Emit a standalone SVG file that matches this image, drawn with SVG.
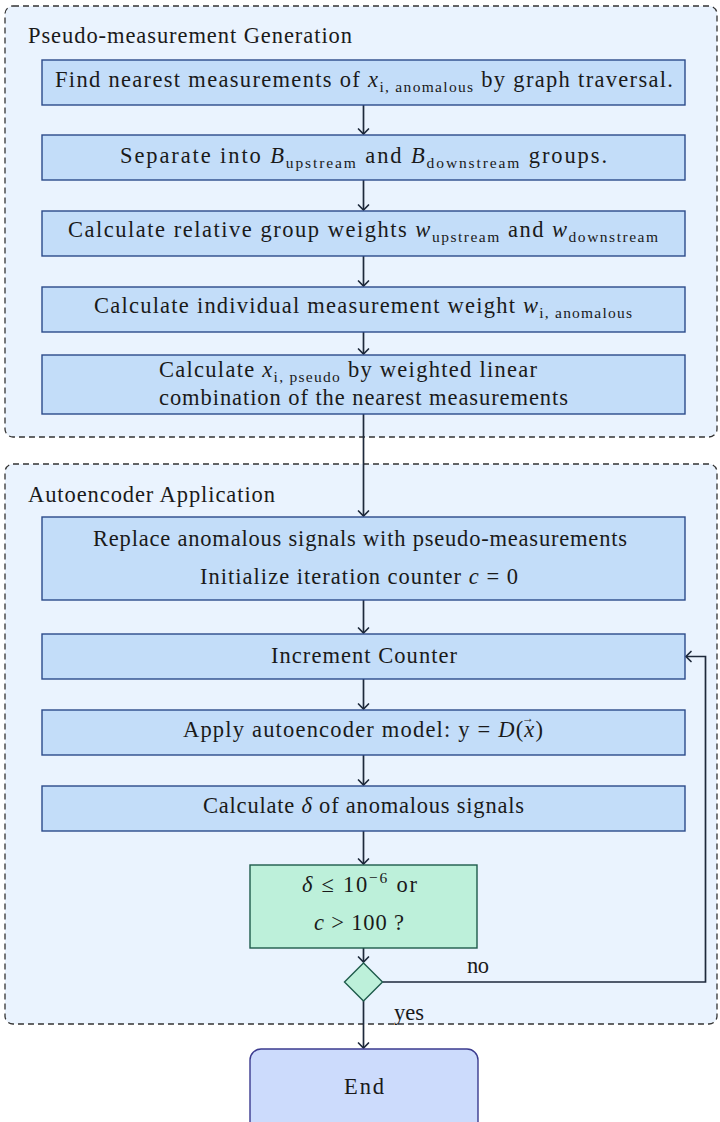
<svg xmlns="http://www.w3.org/2000/svg" width="720" height="1122" viewBox="0 0 720 1122">
  <style>
    text { font-family: "Liberation Serif", "DejaVu Serif", serif; font-size: 22.5px; fill: #1a1a1a; }
    .mi { font-style: italic; }
    .sub { font-size: 15.5px; }
    .acc { font-size: 12px; }
    .group { fill: #eaf3fe; stroke: #333333; stroke-width: 1.3; stroke-dasharray: 6 4; }
    .step { fill: #c3ddf9; stroke: #2c4a8a; stroke-width: 1.4; }
    .check { fill: #bdf0da; stroke: #1e5b4b; stroke-width: 1.4; }
    .term { fill: #ccdbfc; stroke: #3b3b8f; stroke-width: 1.4; }
    .flow { fill: none; stroke: #1e293b; stroke-width: 1.7; }
  </style>
  <defs>
    <marker id="arrow" markerUnits="userSpaceOnUse" markerWidth="14" markerHeight="14" viewBox="-8 -7 10 14" refX="0" refY="0" orient="auto">
      <path d="M -5 -5 Q -1.5 -1.5 0 0 Q -1.5 1.5 -5 5" fill="none" stroke="#1e293b" stroke-width="1.7" stroke-linecap="round"/>
    </marker>
  </defs>

  <!-- containers -->
  <g id="pseudo-generation">
    <rect class="group" x="5" y="6" width="712" height="431" rx="8"/>
    <text x="28" y="43" textLength="324" lengthAdjust="spacing">Pseudo-measurement Generation</text>
  </g>
  <g id="autoencoder-application">
    <rect class="group" x="5" y="464" width="712" height="560" rx="8"/>
    <text x="28" y="502" textLength="247" lengthAdjust="spacing">Autoencoder Application</text>
  </g>

  <!-- connectors -->
  <g id="connectors">
    <path class="flow" d="M363.5 105 V134" marker-end="url(#arrow)"/>
    <path class="flow" d="M363.5 180 V210" marker-end="url(#arrow)"/>
    <path class="flow" d="M363.5 256 V286" marker-end="url(#arrow)"/>
    <path class="flow" d="M363.5 332 V354" marker-end="url(#arrow)"/>
    <path class="flow" d="M363.5 414 V516" marker-end="url(#arrow)"/>
    <path class="flow" d="M363.5 600 V633" marker-end="url(#arrow)"/>
    <path class="flow" d="M363.5 679 V709" marker-end="url(#arrow)"/>
    <path class="flow" d="M363.5 755 V785" marker-end="url(#arrow)"/>
    <path class="flow" d="M363.5 831 V864" marker-end="url(#arrow)"/>
    <path class="flow" d="M363.5 948 V962" marker-end="url(#arrow)"/>
    <path class="flow" d="M363.5 1001 V1048" marker-end="url(#arrow)"/>
    <path class="flow" d="M382.5 982 H705.5 V656.5 H686" marker-end="url(#arrow)"/>
    <text x="467" y="973" textLength="22" lengthAdjust="spacing">no</text>
    <text x="394" y="1020" textLength="30" lengthAdjust="spacing">yes</text>
  </g>

  <!-- pseudo-measurement steps -->
  <g id="find-nearest">
    <rect class="step" x="42" y="60" width="643" height="45"/>
    <text x="55" y="87" textLength="618" lengthAdjust="spacing">Find nearest measurements of <tspan class="mi">x</tspan><tspan class="sub" dy="4.5">i, anomalous</tspan><tspan dy="-4.5"> by graph traversal.</tspan></text>
  </g>
  <g id="separate-groups">
    <rect class="step" x="42" y="135" width="643" height="45"/>
    <text x="120" y="163" textLength="487" lengthAdjust="spacing">Separate into <tspan class="mi">B</tspan><tspan class="sub" dy="4.5">upstream</tspan><tspan dy="-4.5"> and </tspan><tspan class="mi">B</tspan><tspan class="sub" dy="4.5">downstream</tspan><tspan dy="-4.5"> groups.</tspan></text>
  </g>
  <g id="group-weights">
    <rect class="step" x="42" y="211" width="643" height="45"/>
    <text x="68" y="237" textLength="590" lengthAdjust="spacing">Calculate relative group weights <tspan class="mi">w</tspan><tspan class="sub" dy="4.5">upstream</tspan><tspan dy="-4.5"> and </tspan><tspan class="mi">w</tspan><tspan class="sub" dy="4.5">downstream</tspan></text>
  </g>
  <g id="individual-weight">
    <rect class="step" x="42" y="287" width="643" height="45"/>
    <text x="94" y="313" textLength="538" lengthAdjust="spacing">Calculate individual measurement weight <tspan class="mi">w</tspan><tspan class="sub" dy="4.5">i, anomalous</tspan></text>
  </g>
  <g id="pseudo-value">
    <rect class="step" x="42" y="355" width="643" height="59"/>
    <text x="159" y="377" textLength="378" lengthAdjust="spacing">Calculate <tspan class="mi">x</tspan><tspan class="sub" dy="4.5">i, pseudo</tspan><tspan dy="-4.5"> by weighted linear</tspan></text>
    <text x="159" y="405" textLength="409" lengthAdjust="spacing">combination of the nearest measurements</text>
  </g>

  <!-- autoencoder steps -->
  <g id="replace-signals">
    <rect class="step" x="42" y="517" width="643" height="83"/>
    <text x="93" y="546" textLength="534" lengthAdjust="spacing">Replace anomalous signals with pseudo-measurements</text>
    <text x="200" y="584" textLength="318" lengthAdjust="spacing">Initialize iteration counter <tspan class="mi">c</tspan> = 0</text>
  </g>
  <g id="increment-counter">
    <rect class="step" x="42" y="634" width="643" height="45"/>
    <text x="271" y="663" textLength="186" lengthAdjust="spacing">Increment Counter</text>
  </g>
  <g id="apply-model">
    <rect class="step" x="42" y="710" width="643" height="45"/>
    <text x="183" y="737" textLength="360" lengthAdjust="spacing">Apply autoencoder model: y = <tspan class="mi">D</tspan>(<tspan class="mi">x</tspan>)</text>
    <!-- vector accent over x -->
    <text class="acc" x="522" y="722">→</text>
  </g>
  <g id="calc-delta">
    <rect class="step" x="42" y="786" width="643" height="45"/>
    <text x="203" y="813" textLength="321" lengthAdjust="spacing">Calculate <tspan class="mi">δ</tspan> of anomalous signals</text>
  </g>
  <g id="convergence-check">
    <rect class="check" x="250" y="865" width="227" height="83"/>
    <text x="302" y="892" textLength="115" lengthAdjust="spacing"><tspan class="mi">δ</tspan> ≤ 10<tspan class="sub" dy="-9">−6</tspan><tspan dy="9"> or</tspan></text>
    <text x="314" y="930" textLength="90" lengthAdjust="spacing"><tspan class="mi">c</tspan> &gt; 100 ?</text>
  </g>
  <g id="decision">
    <polygon class="check" points="363.5,963 382.5,982 363.5,1001 344.5,982"/>
  </g>
  <g id="end">
    <rect class="term" x="250" y="1049" width="228" height="90" rx="11"/>
    <text x="344" y="1094" textLength="40" lengthAdjust="spacing">End</text>
  </g>
</svg>
